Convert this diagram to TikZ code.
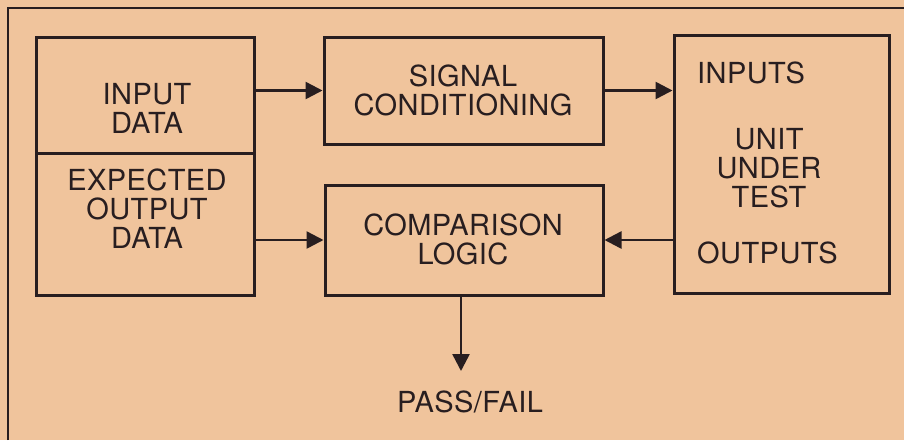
\documentclass[tikz,border=0pt]{standalone}
\usepackage{fontspec}
\setmainfont[LetterSpace=1.5]{TeX Gyre Heros}
\usetikzlibrary{arrows.meta}
\definecolor{paper}{RGB}{240,196,156}
\definecolor{ink}{RGB}{40,30,32}
\begin{document}
\begin{tikzpicture}[x=1pt,y=-1pt,
  box/.style={draw=ink, line width=3pt, inner sep=0pt},
  lbl/.style={text=ink, align=center, inner sep=0pt, font=\fontsize{29}{29}\selectfont},
  flow/.style={draw=ink, line width=2.5pt, -{Triangle[length=17pt,width=17pt]}}]
\path[use as bounding box, fill=paper] (0,0) rectangle (904,440);
\draw[ink, line width=1.5pt] (8,440) -- (8,8) -- (904,8);
% blocks
\node[box, minimum width=218pt, minimum height=116pt] (indata) at (145,95) {};
\node[box, minimum width=218pt, minimum height=142pt] (expdata) at (145,224) {};
\node[box, minimum width=279pt, minimum height=107pt] (sigcond) at (463.5,90.5) {};
\node[box, minimum width=278pt, minimum height=110pt] (complog) at (464,240) {};
\node[box, minimum width=215pt, minimum height=258pt] (uut) at (781.5,164) {};
% texts
\node[lbl] (indatatext) at (147,108) {INPUT\\DATA};
\node[lbl] (expdatatext) at (147,209) {EXPECTED\\OUTPUT\\DATA};
\node[lbl] (sigcondtext) at (463,90) {SIGNAL\\CONDITIONING};
\node[lbl] (complogtext) at (463,239) {COMPARISON\\LOGIC};
\node[lbl] (uuttext) at (769,168) {UNIT\\UNDER\\TEST};
\node[lbl, anchor=base west] (inputs) at (697,83) {INPUTS};
\node[lbl, anchor=base west] (outputs) at (697,263) {OUTPUTS};
\node[lbl, anchor=base] (passfail) at (470,412) {PASS/FAIL};
% connections
\draw[flow] (sigcond.west -| indata.east) -- (sigcond.west);
\draw[flow] (sigcond.east) -- (sigcond.east -| uut.west);
\draw[flow] (complog.west -| expdata.east) -- (complog.west);
\draw[flow] (complog.east -| uut.west) -- (complog.east);
\coordinate (pfend) at (461,371);
\draw[flow] (complog.south -| pfend) -- (pfend);
\end{tikzpicture}
\end{document}
